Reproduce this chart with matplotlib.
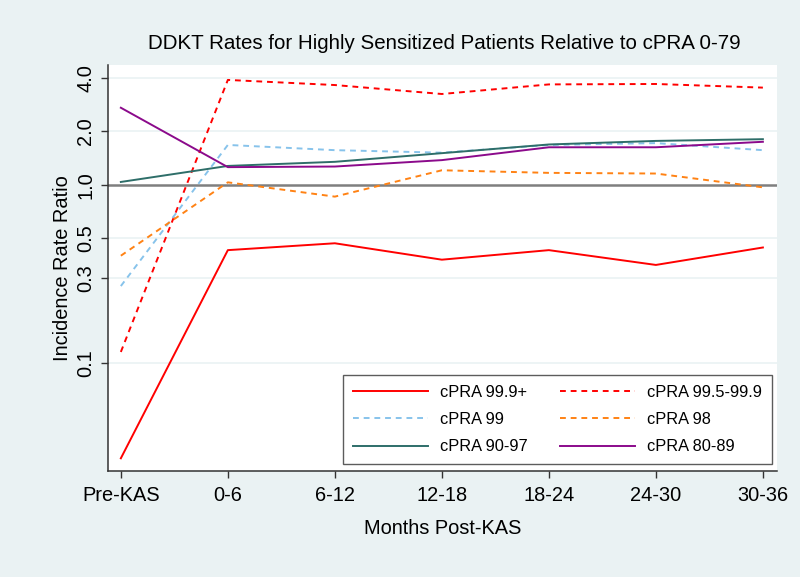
import matplotlib.pyplot as plt
import numpy as np

plt.rcParams["font.family"] = ["Liberation Sans", "DejaVu Sans"]

# -----------------------------
# Data
# -----------------------------
periods = ["Pre-KAS", "0-6", "6-12", "12-18", "18-24", "24-30", "30-36"]

cpra_999 = [0.029, 0.43, 0.47, 0.38, 0.43, 0.355, 0.445]
cpra_995_999 = [0.115, 3.9, 3.65, 3.25, 3.68, 3.7, 3.53]
cpra_99 = [0.27, 1.68, 1.57, 1.52, 1.68, 1.72, 1.57]
cpra_98 = [0.40, 1.035, 0.86, 1.21, 1.17, 1.16, 0.97]
cpra_90_97 = [1.04, 1.28, 1.35, 1.51, 1.69, 1.77, 1.81]
cpra_80_89 = [2.72, 1.26, 1.27, 1.38, 1.63, 1.63, 1.75]

yticks = [0.1, 0.3, 0.5, 1.0, 2.0, 4.0]
ytick_labels = ["0.1", "0.3", "0.5", "1.0", "2.0", "4.0"]

bg = "#EAF2F3"

fig = plt.figure(figsize=(8, 5.77), dpi=100, facecolor=bg)
ax = fig.add_axes([0.135, 0.1837, 0.836, 0.7036])
ax.set_facecolor("white")

x = np.arange(len(periods))

series = [
    ("cPRA 99.9+", cpra_999, "#FF0000", "-"),
    ("cPRA 99.5-99.9", cpra_995_999, "#FF0000", (0, (3, 2.5))),
    ("cPRA 99", cpra_99, "#87C3EB", (0, (3, 2.5))),
    ("cPRA 98", cpra_98, "#FF8214", (0, (3, 2.5))),
    ("cPRA 90-97", cpra_90_97, "#2E6E69", "-"),
    ("cPRA 80-89", cpra_80_89, "#8B0A8B", "-"),
]

# gridlines and reference line
for yt in yticks:
    if yt == 1.0:
        ax.axhline(yt, color="#7F7F7F", linewidth=1.8, zorder=1)
    else:
        ax.axhline(yt, color=bg, linewidth=1.2, zorder=1)

lines = []
for label, vals, color, ls in series:
    ln, = ax.plot(x, vals, color=color, linestyle=ls, linewidth=1.4, label=label, zorder=3)
    lines.append(ln)

ax.set_yscale("log")
ax.set_ylim(0.0246, 4.73)
ax.set_xlim(-0.12, 6.13)

ax.set_yticks(yticks)
ax.set_yticklabels(ytick_labels, rotation=90, va="center")
ax.yaxis.set_minor_locator(plt.NullLocator())
ax.set_xticks(x)
ax.set_xticklabels(periods)

ax.tick_params(axis="both", labelsize=14.4, length=5, width=1, color="#333333")
ax.tick_params(axis="y", pad=4)
ax.tick_params(axis="x", pad=6)

for side in ["top", "right"]:
    ax.spines[side].set_visible(False)
for side in ["left", "bottom"]:
    ax.spines[side].set_color("#333333")
    ax.spines[side].set_linewidth(1.1)

ax.set_ylabel("Incidence Rate Ratio", fontsize=14.4, labelpad=3)
ax.set_xlabel("Months Post-KAS", fontsize=14.4, labelpad=10)
fig.text(0.556, 0.924, "DDKT Rates for Highly Sensitized Patients Relative to cPRA 0-79",
         ha="center", va="center", fontsize=14.8)

# row-wise legend order (matplotlib fills columns first)
order = [0, 2, 4, 1, 3, 5]
leg = ax.legend([lines[i] for i in order], [series[i][0] for i in order],
                loc="lower right", ncol=2, fontsize=11.8, frameon=True, fancybox=False,
                edgecolor="#333333", handlelength=4.6, handletextpad=0.73,
                columnspacing=1.95, labelspacing=0.74, borderpad=0.6,
                borderaxespad=0, bbox_to_anchor=(0.9925, 0.017))
leg.get_frame().set_linewidth(1.0)

fig.savefig("out.png", dpi=100, facecolor=bg)
